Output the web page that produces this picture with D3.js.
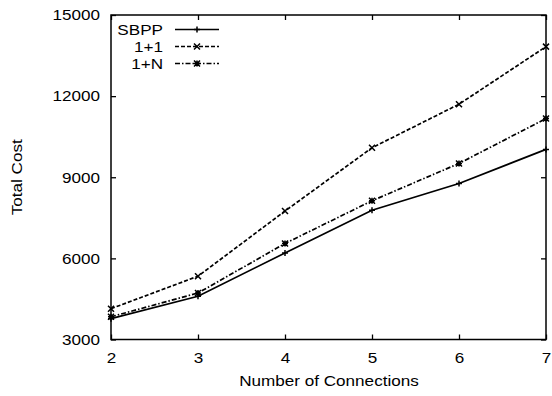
<!DOCTYPE html>
<html><head><meta charset="utf-8">
<script src="https://cdn.jsdelivr.net/npm/d3@7"></script>
<style>body{margin:0;background:#fff}svg{display:block}text{font-family:"Liberation Sans",Arial,Helvetica,sans-serif}</style>
</head><body><svg id="c" width="552" height="396"></svg>
<script>
const connections = [2, 3, 4, 5, 6, 7];
const sbpp = [3770, 4600, 6200, 7780, 8770, 10030];
const onePlusOne = [4140, 5340, 7750, 10090, 11700, 13830];
const onePlusN = [3840, 4720, 6550, 8130, 9510, 11170];
const yTicks = [3000, 6000, 9000, 12000, 15000];
const seriesNames = ["SBPP", "1+1", "1+N"];

(function () {
const svg = d3.select("#c");
const L = 111, R = 546, T = 15, B = 339.5;
const x = d3.scaleLinear().domain([2, 7]).range([L, R]);
const y = d3.scaleLinear().domain([3000, 15000]).range([B, T]);
const font = 15;
const stretch = 1.14;

const g = svg.append("g");
const axB = g.append("g").attr("transform", `translate(0,${B})`)
  .call(d3.axisBottom(x).tickValues(connections).tickFormat(d3.format("d")).tickSize(-5).tickPadding(13));
const axT = g.append("g").attr("transform", `translate(0,${T})`)
  .call(d3.axisTop(x).tickValues(connections).tickFormat("").tickSize(-5));
const axL = g.append("g").attr("transform", `translate(${L},0)`)
  .call(d3.axisLeft(y).tickValues(yTicks).tickFormat(d3.format("d")).tickSize(-5).tickPadding(11));
const axR = g.append("g").attr("transform", `translate(${R},0)`)
  .call(d3.axisRight(y).tickValues(yTicks).tickFormat("").tickSize(-5));
[axB, axT, axL, axR].forEach(a => {
  a.select(".domain").remove();
  a.selectAll("line").attr("stroke", "#000").attr("stroke-width", 1.3);
  a.selectAll("text").attr("font-size", font).attr("fill", "#000").style("font-family", '"Liberation Sans",Arial,sans-serif');
});

svg.append("rect").attr("x", L).attr("y", T).attr("width", R - L).attr("height", B - T)
  .attr("fill", "none").attr("stroke", "#000").attr("stroke-width", 1.5);

svg.append("text").attr("x", (L + R) / 2 + 0.5).attr("y", 386).attr("text-anchor", "middle")
  .attr("font-size", font).text("Number of Connections");
svg.append("text").attr("transform", `translate(22,${(T + B) / 2}) rotate(-90)`)
  .attr("text-anchor", "middle").attr("font-size", font).text("Total Cost");

const series = [
  {name: seriesNames[0], values: sbpp, dash: null, marker: "plus"},
  {name: seriesNames[1], values: onePlusOne, dash: "4,2", marker: "cross"},
  {name: seriesNames[2], values: onePlusN, dash: "5,2,1.5,2", marker: "star"}
];

function marker(sel, type, cx, cy) {
  const s = 3;
  const p = [];
  if (type === "plus" || type === "star") p.push(`M${cx - s},${cy}H${cx + s}M${cx},${cy - s}V${cy + s}`);
  if (type === "cross" || type === "star") p.push(`M${cx - s},${cy - s}L${cx + s},${cy + s}M${cx - s},${cy + s}L${cx + s},${cy - s}`);
  sel.append("path").attr("d", p.join("")).attr("stroke", "#000").attr("stroke-width", 1.5).attr("fill", "none");
}

const line = d3.line().x((d, i) => x(connections[i])).y(d => y(d));
series.forEach((s, k) => {
  svg.append("path").datum(s.values).attr("d", line).attr("fill", "none")
    .attr("stroke", "#000").attr("stroke-width", 1.7)
    .attr("stroke-dasharray", s.dash);
  s.values.forEach((v, i) => marker(svg, s.marker, x(connections[i]), y(v)));
  const ly = 29.5 + k * 17;
  svg.append("text").attr("x", 163).attr("y", ly + 5.5).attr("text-anchor", "end")
    .attr("font-size", font).text(s.name);
  svg.append("line").attr("x1", 175).attr("x2", 219).attr("y1", ly).attr("y2", ly)
    .attr("stroke", "#000").attr("stroke-width", 1.7).attr("stroke-dasharray", s.dash);
  marker(svg, s.marker, 197, ly);
});

// widen glyphs horizontally to match the reference's wider lettering
svg.selectAll("text").each(function () {
  const w = this.getComputedTextLength();
  if (w > 0) d3.select(this).attr("textLength", w * stretch).attr("lengthAdjust", "spacingAndGlyphs");
});
})();
</script></body></html>
